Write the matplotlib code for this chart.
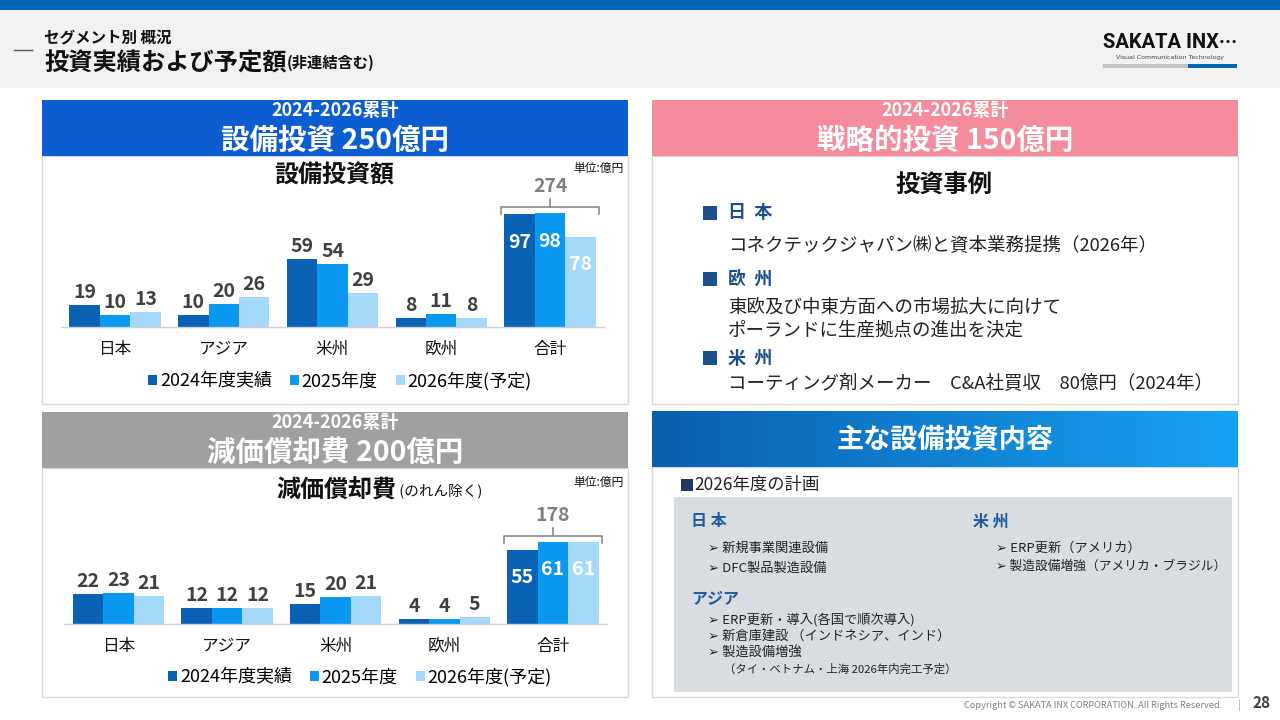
import numpy as np
import matplotlib
matplotlib.use("Agg")
import matplotlib.pyplot as plt
from matplotlib.patches import Rectangle, Patch
from matplotlib.colors import LinearSegmentedColormap

plt.rcParams['font.family'] = ['Noto Sans CJK JP', 'DejaVu Sans']

# ---------------- data ----------------
categories = ['日本', 'アジア', '米州', '欧州', '合計']
series_names = ['2024年度実績', '2025年度', '2026年度(予定)']
series_colors = ['#0a62b4', '#0a98f0', '#a5d9fa']

capex_2024 = [19, 10, 59, 8, 97]
capex_2025 = [10, 20, 54, 11, 98]
capex_2026 = [13, 26, 29, 8, 78]
capex_total = 274

dep_2024 = [22, 12, 15, 4, 55]
dep_2025 = [23, 12, 20, 4, 61]
dep_2026 = [21, 12, 21, 5, 61]
dep_total = 178

# ---------------- figure ----------------
W, H = 1280, 720
fig = plt.figure(figsize=(12.8, 7.2), dpi=100)
ax0 = fig.add_axes([0, 0, 1, 1])
ax0.set_xlim(0, W)
ax0.set_ylim(H, 0)
ax0.axis('off')


def rect(x0, y0, x1, y1, fc, ec='none', lw=0, z=1):
    ax0.add_patch(Rectangle((x0, y0), x1 - x0, y1 - y0, fc=fc, ec=ec, lw=lw, zorder=z))


def txt(x, y, s, size, color='#222222', weight='normal', ha='left', va='center', **kw):
    return ax0.text(x, y, s, fontsize=size, color=color, fontweight=weight,
                    ha=ha, va=va, zorder=5, **kw)


# background / header
rect(0, 0, W, H, 'white', z=0)
rect(0, 0, W, 10, '#0068b7', z=1)
rect(0, 10, W, 88, '#f2f2f2', z=1)
ax0.plot([14, 32], [50, 50], color='#555555', lw=1, zorder=3)
txt(44, 38, 'セグメント別 概況', 11.2, color='#111111', weight='bold')
t1 = txt(44, 64, '投資実績および予定額', 17.5, color='#111111', weight='bold')
ax0.annotate('(非連結含む)', xy=(1, 0.2), xycoords=t1, fontsize=11,
             fontweight='bold', color='#111111', va='bottom', ha='left', zorder=5)

# logo
txt(1170, 42, 'SAKATA INX···', 14.5, color='#111111', weight='bold', ha='center',
    family=['Roboto', 'DejaVu Sans'])
txt(1170, 57, 'Visual Communication Technology', 4.5, color='#444444', ha='center',
    family=['DejaVu Sans'])
rect(1103, 64, 1188, 68, '#c4c4c4', z=2)
rect(1188, 64, 1237, 68, '#0068b7', z=2)

# panels
rect(42, 100, 628, 156, '#0c5dcf', z=2)
rect(42, 156, 628, 404, 'white', ec='#d9d9d9', lw=1, z=1)
rect(42, 412, 628, 468, '#a0a0a0', z=2)
rect(42, 468, 628, 697, 'white', ec='#d9d9d9', lw=1, z=1)
rect(652, 100, 1238, 156, '#f48c9c', z=2)
rect(652, 156, 1238, 404, 'white', ec='#d9d9d9', lw=1, z=1)
rect(652, 467, 1238, 697, 'white', ec='#d9d9d9', lw=1, z=1)
grad = LinearSegmentedColormap.from_list('g', ['#0a5fb0', '#17a3f4'])
ax0.imshow(np.linspace(0, 1, 256)[None, :], cmap=grad, extent=(652, 1238, 467, 411),
           aspect='auto', zorder=2)
ax0.set_xlim(0, W)
ax0.set_ylim(H, 0)

# panel header texts
for cx, y1, y2, big in [(335, 111, 141, '設備投資 250億円'),
                        (335, 423, 453, '減価償却費 200億円'),
                        (945, 110, 141, '戦略的投資 150億円')]:
    txt(cx, y1, '2024-2026累計', 13, color='white', weight='bold', ha='center')
    txt(cx, y2, big, 20.5, color='white', weight='bold', ha='center')
txt(945, 439, '主な設備投資内容', 19.5, color='white', weight='bold', ha='center')

# chart titles
txt(334, 176, '設備投資額', 17.3, color='#111111', weight='bold', ha='center')
txt(624, 168, '単位:億円', 8.5, color='#111111', ha='right')
t2 = txt(276, 491, '減価償却費', 17.3, color='#111111', weight='bold')
ax0.annotate(' (のれん除く)', xy=(1, 0.22), xycoords=t2, fontsize=10.5, color='#111111',
             va='bottom', ha='left', zorder=5)
txt(624, 482, '単位:億円', 8.5, color='#111111', ha='right')


# ---------------- bar charts ----------------
def bar_chart(left_px, baseline_px, width_px, ppu, ymax, s1, s2, s3, total, legend_cx, legend_y):
    height_px = ppu * ymax
    ax = fig.add_axes([left_px / W, 1 - baseline_px / H, width_px / W, height_px / H])
    ax.set_facecolor('none')
    ax.set_zorder(10)
    x = np.arange(len(categories))
    bw = 0.28
    series = [s1, s2, s3]
    for i, (vals, col, name) in enumerate(zip(series, series_colors, series_names)):
        xs = x + (i - 1) * bw
        ax.bar(xs, vals, width=bw, color=col, label=name, zorder=2)
        for j, (xx, v) in enumerate(zip(xs, vals)):
            if j == len(categories) - 1:
                ax.annotate(str(v), (xx, v), xytext=(0, -24), textcoords='offset points',
                            ha='center', va='baseline', fontsize=14, fontweight='bold',
                            color='white')
            else:
                ax.annotate(str(v), (xx, v), xytext=(0, 5), textcoords='offset points',
                            ha='center', va='baseline', fontsize=14, fontweight='bold',
                            color='#404040')
    # bracket over total group
    last = len(categories) - 1
    top = max(s1[last], s2[last], s3[last])
    yb = top + 6 / ppu
    xl, xr = last - 0.45, last + 0.45
    ax.plot([xl, xl, xr, xr], [yb - 7 / ppu, yb, yb, yb - 7 / ppu], color='#8a8a8a', lw=1.2,
            clip_on=False, zorder=3)
    ax.plot([last, last], [yb, yb + 8 / ppu], color='#8a8a8a', lw=1.2, clip_on=False, zorder=3)
    ax.text(last, yb + 15 / ppu, str(total), ha='center', va='baseline', fontsize=14,
            fontweight='bold', color='#7f7f7f')
    ax.set_xlim(-0.5, len(categories) - 0.5)
    ax.set_ylim(0, ymax)
    ax.set_xticks(x)
    ax.set_xticklabels(categories, fontsize=12, color='#111111')
    ax.tick_params(axis='x', length=0, pad=10)
    ax.set_yticks([])
    for s in ['top', 'right', 'left']:
        ax.spines[s].set_visible(False)
    ax.spines['bottom'].set_color('#d0d0d0')
    ax.spines['bottom'].set_linewidth(1)
    handles = [Patch(facecolor=c, edgecolor='none', label=n) for c, n in zip(series_colors, series_names)]
    fig.legend(handles=handles, loc='center', bbox_to_anchor=(legend_cx / W, 1 - legend_y / H),
               ncol=3, frameon=False, fontsize=13, handlelength=0.5, handleheight=0.5,
               handletextpad=0.15, columnspacing=1.0, borderaxespad=0, borderpad=0)
    return ax


bar_chart(60.6, 327, 543.75, 1.16, 120, capex_2024, capex_2025, capex_2026, capex_total, 340, 381)
bar_chart(64.2, 624, 543.0, 1.345, 80, dep_2024, dep_2025, dep_2026, dep_total, 360, 677)

# ---------------- strategic investment panel ----------------
navy = '#1d4f8c'
txt(944, 186, '投資事例', 17.5, color='#111111', weight='bold', ha='center')
for y, head in [(213, '日  本'), (279, '欧  州'), (358, '米  州')]:
    rect(703, y - 7, 717, y + 7, navy, z=3)
    txt(728, y, head, 13, color=navy, weight='bold')
txt(728, 246, 'コネクテックジャパン㈱と資本業務提携（2026年）', 13.3)
txt(728, 308, '東欧及び中東方面への市場拡大に向けて', 13.3)
txt(728, 331, 'ポーランドに生産拠点の進出を決定', 13.3)
txt(728, 384, 'コーティング剤メーカー　C&A社買収　80億円（2024年）', 13.3)

# ---------------- capex plan panel ----------------
rect(681, 479, 693, 491, '#1f3864', z=3)
txt(694, 485, '2026年度の計画', 12.5, color='#222222')
rect(674, 497, 1232, 692, '#d9dde1', z=2)
blue2 = '#1f5a9a'
txt(691, 521, '日 本', 11.5, color=blue2, weight='bold')
txt(708, 548, '➢ 新規事業関連設備', 9.5)
txt(708, 568, '➢ DFC製品製造設備', 9.5)
txt(691, 598, 'アジア', 11.5, color=blue2, weight='bold')
txt(708, 620, '➢ ERP更新・導入(各国で順次導入)', 9.5)
txt(708, 636, '➢ 新倉庫建設 （インドネシア、インド）', 9.5)
txt(708, 652, '➢ 製造設備増強', 9.5)
txt(724, 669, '（タイ・ベトナム・上海 2026年内完工予定）', 8.2)
txt(973, 522, '米 州', 11.5, color=blue2, weight='bold')
txt(996, 548, '➢ ERP更新（アメリカ）', 9.5)
txt(996, 566, '➢ 製造設備増強（アメリカ・ブラジル）', 9.2)

# footer
txt(1222, 705, 'Copyright © SAKATA INX CORPORATION. All Rights Reserved.', 6.6, color='#808080', ha='right')
txt(1239, 705, '|', 7, color='#999999', ha='center')
txt(1262, 703, '28', 11, color='#404040', weight='bold', ha='center')

fig.savefig('out.png', dpi=100)
